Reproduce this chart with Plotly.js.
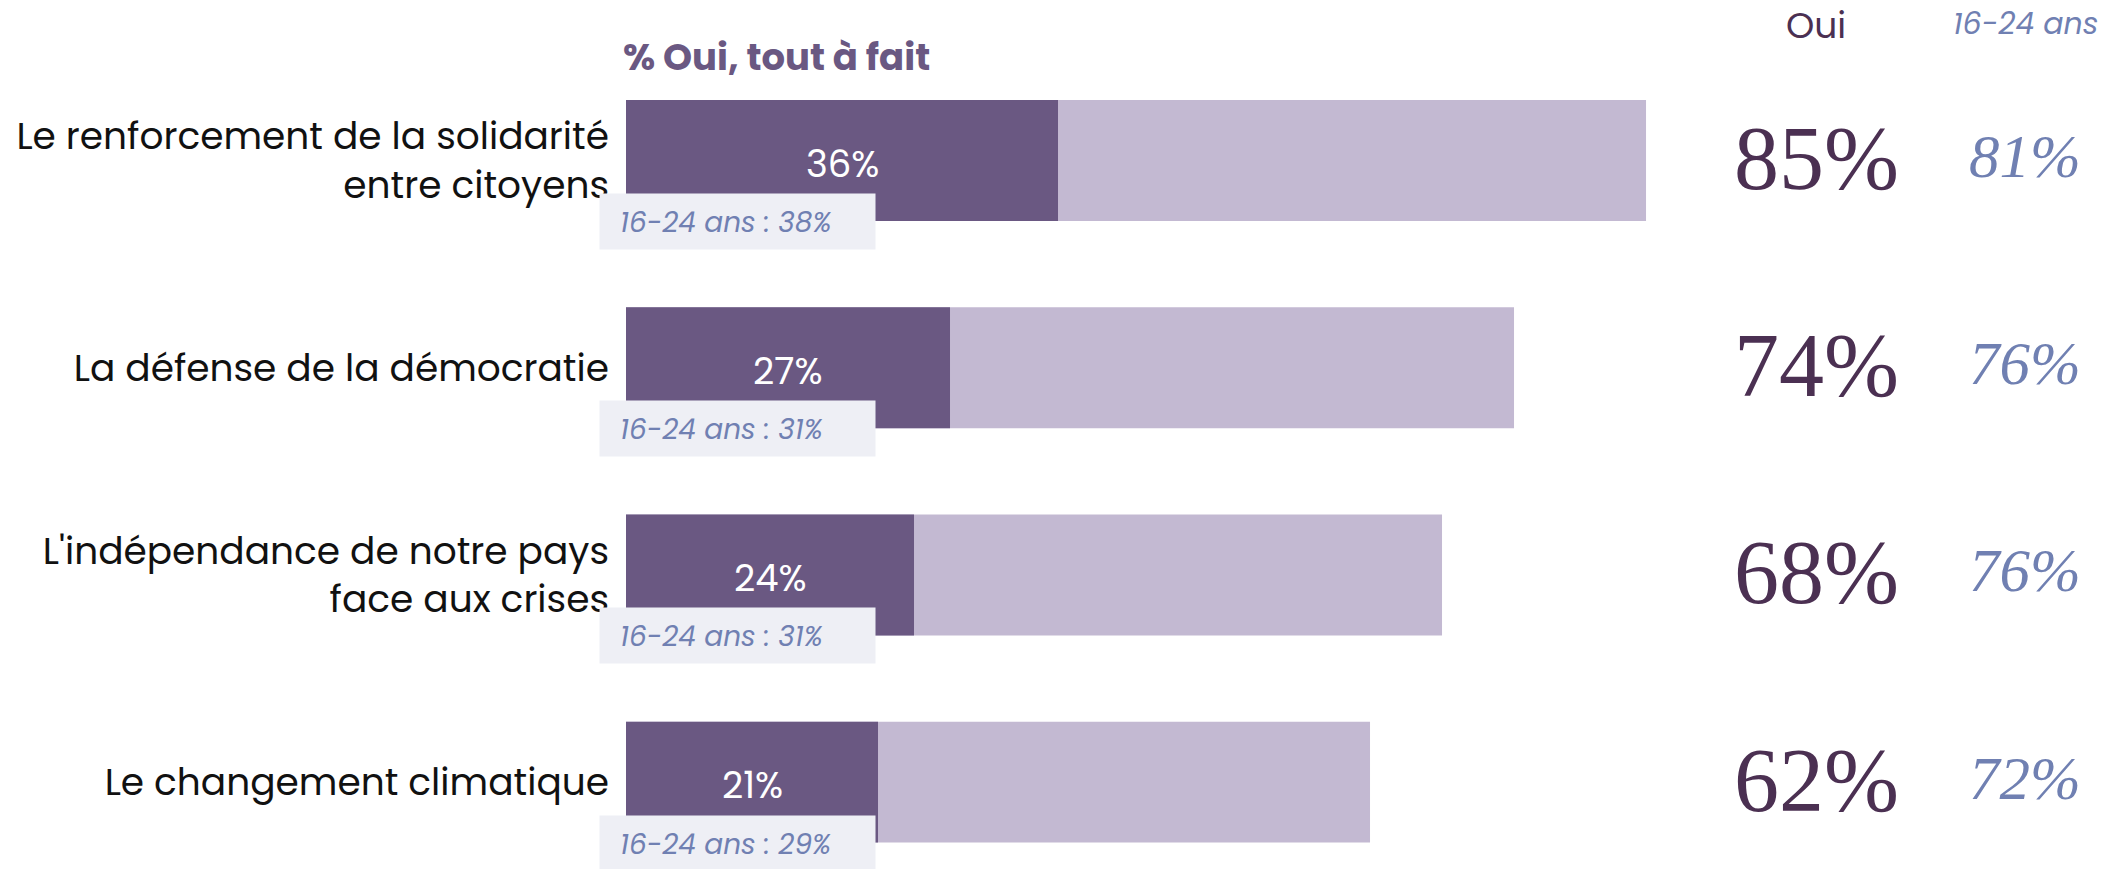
<!DOCTYPE html>
<html>
<head>
<meta charset="utf-8">
<script src="https://cdn.plot.ly/plotly-3.0.1.min.js"></script>
<style>html,body{margin:0;padding:0;background:#fff;}#chart{width:2121px;height:869px;}</style>
</head>
<body>
<div id="chart"></div>
<script>
// ---- data ----
const categories = [
  "Le renforcement de la solidarité<br>entre citoyens",
  "La défense de la démocratie",
  "L'indépendance de notre pays<br>face aux crises",
  "Le changement climatique"
];
const ouiTotal = [85, 74, 68, 62];          // % Oui (total)
const ouiToutAFait = [36, 27, 24, 21];      // % Oui, tout à fait
const jeunesToutAFait = [38, 31, 31, 29];   // 16-24 ans : % Oui, tout à fait
const jeunesOui = [81, 76, 76, 72];         // 16-24 ans : % Oui (total)

const headerMain = "% Oui, tout à fait";
const headerOui = "Oui";
const headerJeunes = "16-24 ans";

// ---- styles ----
const SANS = "Poppins, 'Open Sans', sans-serif";
const SERIF = "'Liberation Serif', 'DejaVu Serif', serif";
const DARK = "#6a5882";
const LIGHT = "#c3b9d2";
const AUBERGINE = "#4b3052";
const BLUE = "#7080b2";
const BOXBG = "#eeeff5";

const idx = categories.map((_, i) => i);

const traces = [
  {
    type: "bar", orientation: "h",
    x: ouiTotal, y: idx,
    marker: {color: LIGHT},
    width: 0.584,
    hoverinfo: "skip", showlegend: false
  },
  {
    type: "bar", orientation: "h",
    x: ouiToutAFait, y: idx,
    marker: {color: DARK},
    width: 0.584,
    hoverinfo: "skip", showlegend: false
  }
];

const annotations = [];
idx.forEach(i => {
  // value inside the dark bar
  annotations.push({
    xref: "x", yref: "y", x: ouiToutAFait[i] / 2, y: i,
    xanchor: "center", yanchor: "middle", yshift: -3,
    text: ouiToutAFait[i] + "%", showarrow: false,
    font: {family: SANS, size: 37, color: "#ffffff"}
  });
  // box behind the 16-24 text
  annotations.push({
    xref: "x", yref: "y", x: 0, y: i,
    xanchor: "left", yanchor: "middle",
    xshift: -27, yshift: -61,
    text: " ", showarrow: false,
    width: 275, height: 55, borderpad: 0,
    bgcolor: BOXBG
  });
  annotations.push({
    xref: "x", yref: "y", x: 0, y: i,
    xanchor: "left", yanchor: "middle",
    xshift: -8, yshift: -62,
    text: "<i>16-24 ans : " + jeunesToutAFait[i] + "%</i>",
    showarrow: false,
    font: {family: SANS, size: 28, color: BLUE}
  });
  // big total
  annotations.push({
    xref: "x", yref: "y", x: 99.2, y: i,
    xanchor: "center", yanchor: "middle", yshift: 2,
    text: ouiTotal[i] + "%", showarrow: false,
    font: {family: SERIF, size: 90, color: AUBERGINE}
  });
  // youth total
  annotations.push({
    xref: "x", yref: "y", x: 116.6, y: i,
    xanchor: "center", yanchor: "middle", yshift: 4,
    text: "<i>" + jeunesOui[i] + "%</i>", showarrow: false,
    font: {family: SERIF, size: 61, color: BLUE}
  });
});
annotations.push({
  xref: "x", yref: "paper", x: 0, y: 1,
  xanchor: "left", yanchor: "middle", xshift: -5, yshift: 0,
  text: "<b>" + headerMain + "</b>", showarrow: false,
  font: {family: SANS, size: 37, color: DARK}
});
annotations.push({
  xref: "x", yref: "paper", x: 99.2, y: 1,
  xanchor: "center", yanchor: "middle", yshift: 32,
  text: headerOui, showarrow: false,
  font: {family: SANS, size: 36, color: AUBERGINE}
});
annotations.push({
  xref: "x", yref: "paper", x: 116.6, y: 1,
  xanchor: "center", yanchor: "middle", yshift: 34,
  text: "<i>" + headerJeunes + "</i>", showarrow: false,
  font: {family: SANS, size: 30, color: BLUE}
});

const layout = {
  width: 2121, height: 869,
  margin: {l: 626, r: 0, t: 57, b: 4, pad: 0},
  paper_bgcolor: "#ffffff", plot_bgcolor: "#ffffff",
  barmode: "overlay",
  showlegend: false,
  xaxis: {range: [0, 124.58], visible: false, fixedrange: true},
  yaxis: {
    range: [3.4, -0.5],
    tickmode: "array", tickvals: idx, ticktext: categories,
    showgrid: false, zeroline: false, showline: false, ticks: "",
    ticklabelstandoff: 16,
    tickfont: {family: SANS, size: 37.5, color: "#111111"},
    fixedrange: true
  },
  annotations: annotations
};

Plotly.newPlot("chart", traces, layout, {displayModeBar: false, staticPlot: true});
</script>
</body>
</html>
